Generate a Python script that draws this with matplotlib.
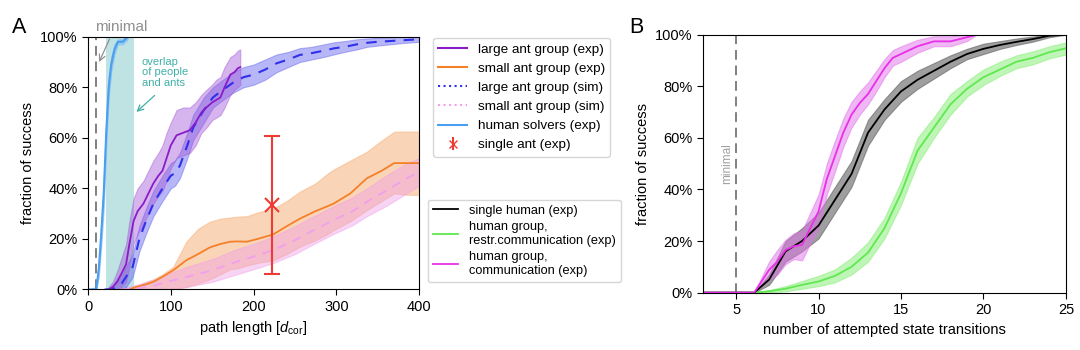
import numpy as np
import matplotlib
matplotlib.use('Agg')
import matplotlib.pyplot as plt
from matplotlib.lines import Line2D

plt.rcParams['font.family'] = ['Liberation Sans', 'DejaVu Sans']
plt.rcParams['mathtext.fontset'] = 'custom'
plt.rcParams['mathtext.rm'] = 'Liberation Sans'
plt.rcParams['mathtext.it'] = 'Liberation Sans:italic'
plt.rcParams['font.size'] = 10.5

# ---- panel A data (path length in d_cor, fraction of success in %)
human_x = [0, 10, 13, 16, 19, 22, 25, 28, 32, 36, 42, 45, 48]
human_y = [0, 0, 8, 22, 38, 62, 80, 89, 95, 98, 98, 99, 100]
human_lo = [0, 0, 5, 17, 32, 56, 76, 86, 93, 97, 97, 98, 99]
human_hi = [0, 1, 11, 27, 44, 68, 84, 92, 97, 99, 99, 100, 100]

large_exp_x = [25, 30, 35, 40, 46, 50, 55, 60, 67, 73, 79, 85, 90, 95, 100, 107,
               115, 123, 130, 137, 143, 150, 155, 160, 165, 172, 177, 181, 184]
large_exp_y = [0, 1, 3, 6, 10, 18, 27, 31, 34, 38, 42, 45, 47, 52, 57, 61,
               62, 63, 66, 70, 72, 74, 75, 76, 80, 85, 86, 87.5, 88]
large_exp_lo = [0, 0, 0, 1, 3, 9, 18, 22, 26, 30, 34, 37, 39, 43, 48, 52,
                53, 54, 57, 62, 64, 67, 68, 69, 72, 77, 79, 80, 81]
large_exp_hi = [1, 3, 7, 12, 18, 27, 36, 40, 43, 47, 51, 54, 57, 62, 66, 71,
                72, 72, 74, 77, 79, 81, 83, 84, 88, 92, 93, 94.5, 95]

large_sim_x = [20, 28, 35, 40, 46, 54, 62, 70, 79, 90, 100, 105, 111, 120, 127, 140,
               151, 163, 176, 188, 200, 214, 228, 242, 256, 270, 285, 297, 310,
               325, 337, 350, 365, 380, 400]
large_sim_y = [0, 0, 1, 2, 5, 9, 20, 27, 34, 40, 45, 46, 49, 57, 64, 71,
               76, 79, 82, 84, 85, 87, 89.5, 91, 92.8, 93.5, 94.5, 95.4, 96,
               97, 97.6, 98, 98.3, 98.6, 99]
large_sim_lo = [0, 0, 0, 0, 1, 5, 15, 22, 29, 35, 40, 41, 44, 52, 59, 66,
                72, 75, 78, 80, 81, 83, 86, 88, 90, 91, 92, 93, 94,
                95, 96, 96.5, 97, 97.5, 98]
large_sim_hi = [0, 1, 3, 5, 9, 14, 25, 32, 39, 45, 50, 51, 54, 62, 69, 76,
                80, 83, 86, 88, 89, 91, 93, 94, 95.5, 96, 97, 97.8, 98.3,
                99, 99.3, 99.6, 99.8, 100, 100]

small_exp_x = [40, 50, 58, 70, 79, 90, 103, 119, 133, 147, 160, 172, 180, 192,
               205, 224, 240, 256, 275, 290, 297, 317, 337, 355, 370, 385, 400]
small_exp_y = [0, 0, 1, 2, 3, 5, 7.6, 11.6, 14, 16.6, 18, 18.9, 19, 18.9,
               20, 21.8, 25, 28, 31, 33, 34, 38, 44, 47, 50, 50, 50]
small_exp_lo = [0, 0, 0, 0, 0, 0, 0, 1, 2.4, 4, 6, 8, 8.3, 9.5,
                10.5, 11.6, 14, 16.9, 19.5, 22, 23.5, 27, 31.4, 35, 38, 37.5, 37.4]
small_exp_hi = [0, 0.5, 1, 3, 4, 6, 9, 19, 24, 26.8, 28, 28.5, 28.8, 29,
                30.5, 32, 35, 38.7, 42, 46, 47.5, 51, 54.5, 59, 62.4, 62.5, 62.5]

small_sim_x = [40, 60, 80, 95, 120, 150, 180, 200, 224, 250, 270, 297, 320, 337,
               360, 380, 400]
small_sim_y = [0, 0.5, 1.5, 3, 5, 7.6, 11, 13, 15.6, 19.5, 23, 27.5, 31, 34.7,
               39, 43, 46.6]
small_sim_lo = [0, 0, 0, 0, 1, 3, 6, 8, 10.5, 14, 17.5, 22, 25.5, 29,
                33, 37, 41]
small_sim_hi = [0.5, 2, 4, 6, 9, 12, 16, 18, 21, 25, 28.5, 33, 36.5, 40,
                45, 49, 52]

single_ant_x = 222
single_ant_y = 33.4
single_ant_lo = 6
single_ant_hi = 60.7

minimal_A = 10
overlap_range = (22, 55)

# ---- panel B data (number of attempted state transitions)
single_x = [3, 6.1, 7, 8, 9, 10, 11, 12, 13, 14, 15, 16, 17, 18, 19, 20, 21, 22, 23, 24, 25]
single_y = [0, 0, 5, 16, 20, 26, 36, 46, 62, 71, 78, 82.5, 86, 89.5, 92.5, 94.5, 96, 97.2, 98.3, 99.6, 100]
single_lo = [0, 0, 3, 12, 16, 21, 31, 41, 57, 67, 74, 79, 83, 87, 90.5, 92.5, 94.5, 96, 97.3, 99, 100]
single_hi = [0, 0, 7, 20, 25, 31, 41, 51, 67, 75, 82, 86, 89, 92, 94.5, 96.5, 97.5, 98.5, 99.3, 100, 100]

restr_x = [3, 6.1, 7, 8, 9, 10, 11, 12, 13, 14, 15, 16, 17, 18, 19, 20, 21, 22, 23, 24, 25]
restr_y = [0, 0, 0.5, 1.5, 3, 4.3, 6.5, 10, 15.5, 25, 38.5, 55, 64, 73, 79, 83.5, 86.5, 89.5, 91, 93.2, 94.7]
restr_lo = [0, 0, 0, 0.5, 1.5, 2.5, 4, 7, 12, 21, 34, 50, 60, 69, 76, 80.5, 84, 87, 88.5, 90.8, 92.3]
restr_hi = [0, 0, 1, 2.5, 4.5, 6.5, 9, 13.5, 19.5, 29, 43, 60, 68, 77, 82, 86.5, 89.5, 92, 93.5, 95.5, 97]

comm_x = [3, 6.1, 7, 7.5, 8, 8.5, 9, 9.5, 10, 10.5, 11, 11.5, 12, 12.5, 13, 13.5,
          14, 14.5, 15, 16, 17, 18, 19, 19.6]
comm_y = [0, 0, 8.8, 12, 16.5, 18, 18.5, 25, 31.5, 44, 53, 62, 69, 73.5, 77, 82,
          87, 91, 92.5, 95.5, 97.4, 97.4, 99, 100]
comm_lo = [0, 0, 5, 7, 11, 13, 12.5, 19, 25, 38, 47, 56.5, 64, 69, 73, 78,
           83.5, 88, 89.5, 93, 95.5, 95.5, 97.5, 100]
comm_hi = [0, 0, 12, 16.5, 20.5, 23, 24, 31, 38, 50, 59, 67.5, 74, 78, 81.5, 86,
           90.5, 94, 95.5, 98, 99.4, 99.4, 100, 100]

minimal_B = 5


def pct(v):
    return np.asarray(v, dtype=float) / 100.0


def band(ax, x, y, lo, hi, color, fillcolor, alpha, ls='-', lw=1.3):
    ax.fill_between(x, pct(lo), pct(hi), color=fillcolor, alpha=alpha, lw=0.8)
    ax.plot(x, pct(y), color=color, ls=ls, lw=lw)


fig = plt.figure(figsize=(10.8, 3.5), dpi=100)
axA = fig.add_axes([0.0815, 0.173, 0.3065, 0.722])
axB = fig.add_axes([0.651, 0.164, 0.336, 0.737])

# ---- panel A
axA.axvspan(*overlap_range, color='#bfe3e3', lw=0)
axA.axvline(minimal_A, color='#808080', ls=(0, (5, 3)), lw=1.4)
band(axA, human_x, human_y, human_lo, human_hi, '#4a9ff0', '#7fbcf5', 0.6, lw=1.5)
band(axA, small_exp_x, small_exp_y, small_exp_lo, small_exp_hi, '#f5802a', '#f7b27a', 0.55)
band(axA, small_sim_x, small_sim_y, small_sim_lo, small_sim_hi, '#f0a0ec', '#f0a0e8', 0.45,
     ls=(0, (5, 4)))
band(axA, large_sim_x, large_sim_y, large_sim_lo, large_sim_hi, '#3030ec', '#6060ee', 0.45,
     ls=(0, (5, 4)), lw=1.5)
band(axA, large_exp_x, large_exp_y, large_exp_lo, large_exp_hi, '#8a1cc8', '#a45ad8', 0.45)
axA.errorbar([single_ant_x], [single_ant_y / 100],
             yerr=[[(single_ant_y - single_ant_lo) / 100], [(single_ant_hi - single_ant_y) / 100]],
             color='#ee3b33', marker='x', ls='none', ms=10, mew=1.5, capsize=6, lw=1.5,
             capthick=1.5)

axA.annotate('minimal', xy=(minimal_A + 2, 0.89), xytext=(40, 1.04), ha='center', va='center',
             color='#909090', fontsize=11, annotation_clip=False,
             arrowprops=dict(arrowstyle='->', color='#909090', lw=0.9, relpos=(0.35, 0.2)))
axA.text(65, 0.92, 'overlap\nof people\nand ants', color='#40b0a8', fontsize=8,
         ha='left', va='top', linespacing=1.05)
axA.annotate('', xy=(56, 0.695), xytext=(83, 0.775),
             arrowprops=dict(arrowstyle='->', color='#40b0a8', lw=0.9))

axA.set_xlim(0, 400)
axA.set_ylim(0, 1)
axA.set_xticks([0, 100, 200, 300, 400])
axA.set_yticks([0, 0.2, 0.4, 0.6, 0.8, 1.0])
axA.set_yticklabels(['0%', '20%', '40%', '60%', '80%', '100%'])
axA.set_xlabel(r'path length [$d_{\mathrm{cor}}$]')
axA.set_ylabel('fraction of success')

# ---- panel B
axB.axvline(minimal_B, color='#808080', ls=(0, (5, 3)), lw=1.4)
axB.text(minimal_B - 0.55, 0.5, 'minimal', rotation=90, color='#a0a0a0', fontsize=8.5,
         ha='center', va='center')
band(axB, restr_x, restr_y, restr_lo, restr_hi, '#5fe84f', '#80ee70', 0.5)
band(axB, single_x, single_y, single_lo, single_hi, '#000000', '#606060', 0.6)
band(axB, comm_x, comm_y, comm_lo, comm_hi, '#e830e8', '#e070e8', 0.5)

axB.set_xlim(3, 25)
axB.set_ylim(0, 1)
axB.set_xticks([5, 10, 15, 20, 25])
axB.set_yticks([0, 0.2, 0.4, 0.6, 0.8, 1.0])
axB.set_yticklabels(['0%', '20%', '40%', '60%', '80%', '100%'])
axB.set_xlabel('number of attempted state transitions')
axB.set_ylabel('fraction of success')

for ax in (axA, axB):
    ax.tick_params(labelsize=10.5, length=4)

fig.text(0.011, 0.905, 'A', fontsize=15.5, va='baseline')
fig.text(0.583, 0.905, 'B', fontsize=15.5, va='baseline')

# ---- legends
hA = [Line2D([], [], color='#8a1cc8', lw=1.5),
      Line2D([], [], color='#f5802a', lw=1.5),
      Line2D([], [], color='#3030ec', lw=1.5, ls=':'),
      Line2D([], [], color='#f0a0ec', lw=1.5, ls=':'),
      Line2D([], [], color='#4a9ff0', lw=1.5)]
lA = ['large ant group (exp)', 'small ant group (exp)', 'large ant group (sim)',
      'small ant group (sim)', 'human solvers (exp)']
eb = axA.errorbar([], [], yerr=[], color='#ee3b33', marker='x', ls='none', capsize=4, lw=1.5)
hA.append(eb)
lA.append('single ant (exp)')
fig.legend(hA, lA, loc='upper left', bbox_to_anchor=(0.401, 0.892), fontsize=9.7,
           handlelength=2.1, borderaxespad=0)

hB = [Line2D([], [], color='#000000', lw=1.3),
      Line2D([], [], color='#5fe84f', lw=1.3),
      Line2D([], [], color='#e830e8', lw=1.3)]
lB = ['single human (exp)', 'human group,\nrestr.communication (exp)',
      'human group,\ncommunication (exp)']
fig.legend(hB, lB, loc='upper left', bbox_to_anchor=(0.396, 0.43), fontsize=9.2,
           handlelength=2.0, borderaxespad=0, labelspacing=0.35)

fig.savefig('out.png', dpi=100)
